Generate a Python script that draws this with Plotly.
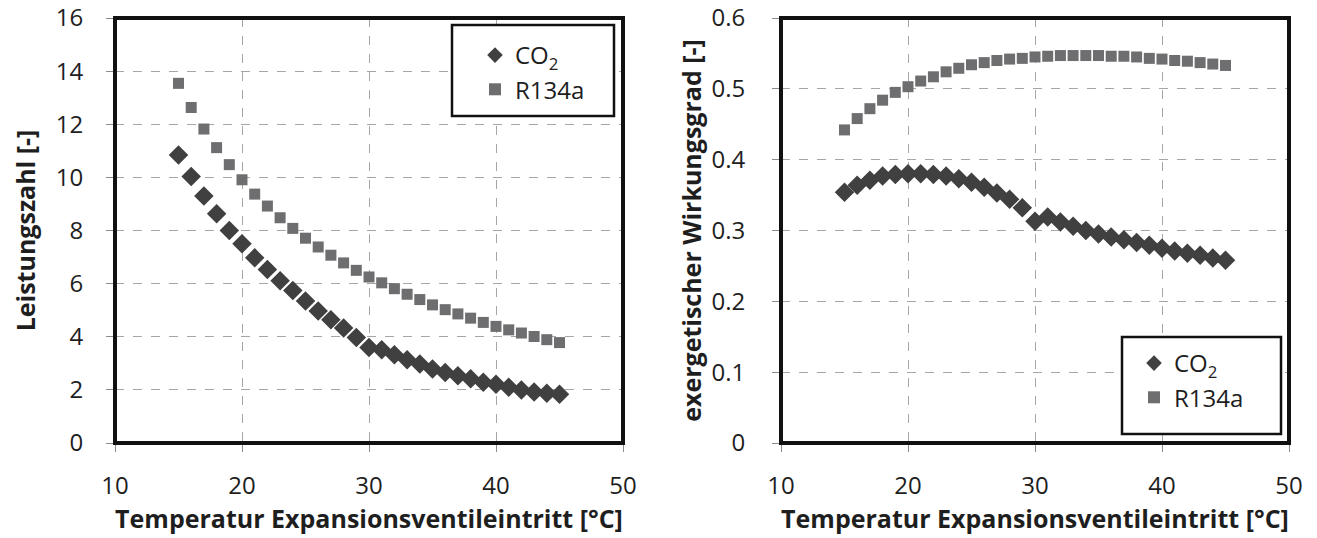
import plotly.graph_objects as go

temps = list(range(15, 46))

cop_co2 = [10.84, 10.03, 9.30, 8.63, 8.00, 7.50, 6.97, 6.53, 6.11, 5.74, 5.35, 4.97, 4.64, 4.33, 3.97, 3.60,
           3.51, 3.32, 3.13, 2.97, 2.79, 2.65, 2.53, 2.42, 2.29, 2.21, 2.10, 2.00, 1.92, 1.87, 1.84]
cop_r134a = [13.54, 12.63, 11.82, 11.12, 10.48, 9.91, 9.37, 8.92, 8.48, 8.08, 7.71, 7.38, 7.07, 6.78, 6.50, 6.25,
             6.03, 5.81, 5.60, 5.40, 5.20, 5.02, 4.86, 4.70, 4.54, 4.39, 4.26, 4.14, 4.01, 3.89, 3.78]
eff_co2 = [0.354, 0.364, 0.371, 0.377, 0.379, 0.380, 0.380, 0.379, 0.377, 0.373, 0.368, 0.361, 0.353, 0.344, 0.332, 0.313,
           0.319, 0.312, 0.306, 0.300, 0.295, 0.291, 0.287, 0.283, 0.279, 0.275, 0.271, 0.268, 0.265, 0.261, 0.258]
eff_r134a = [0.442, 0.458, 0.472, 0.484, 0.495, 0.503, 0.511, 0.517, 0.524, 0.529, 0.534, 0.537, 0.540, 0.542, 0.543, 0.545,
             0.546, 0.547, 0.547, 0.547, 0.547, 0.546, 0.546, 0.545, 0.543, 0.542, 0.540, 0.539, 0.537, 0.535, 0.533]

x_title = "Temperatur Expansionsventileintritt [°C]"
y_title_left = "Leistungszahl [-]"
y_title_right = "exergetischer Wirkungsgrad [-]"
name_co2 = "CO<sub>2</sub>"
name_r134a = "R134a"

W, H = 1317, 538
FONT = "Open Sans"
TXT = "#1e1e1e"
C_CO2 = "#404040"
C_R = "#6e6e70"


def px(xp):
    return xp / W


def py(yp):
    return (H - yp) / H


fig = go.Figure()
fig.add_trace(go.Scatter(x=temps, y=cop_co2, mode="markers", name=name_co2,
                         marker=dict(symbol="diamond", size=15, color=C_CO2), xaxis="x", yaxis="y", legend="legend"))
fig.add_trace(go.Scatter(x=temps, y=cop_r134a, mode="markers", name=name_r134a,
                         marker=dict(symbol="square", size=11, color=C_R), xaxis="x", yaxis="y", legend="legend"))
fig.add_trace(go.Scatter(x=temps, y=eff_co2, mode="markers", name=name_co2,
                         marker=dict(symbol="diamond", size=15, color=C_CO2), xaxis="x2", yaxis="y2", legend="legend2"))
fig.add_trace(go.Scatter(x=temps, y=eff_r134a, mode="markers", name=name_r134a,
                         marker=dict(symbol="square", size=11, color=C_R), xaxis="x2", yaxis="y2", legend="legend2"))

ydom = [py(443), py(18)]
title_font = dict(family=FONT, size=25, color=TXT, weight="bold")
axcommon = dict(showline=False, zeroline=False, showgrid=True, gridcolor="#a6a6a6", griddash="dash", gridwidth=1,
                ticks="outside", ticklen=8, tickcolor="#8c8c8c", automargin=False, ticklabeloverflow="allow",
                tickfont=dict(family=FONT, size=24, color=TXT))

fig.update_layout(
    width=W, height=H,
    margin=dict(l=0, r=0, t=0, b=0),
    paper_bgcolor="white", plot_bgcolor="white",
    font=dict(family=FONT, color=TXT),
    xaxis=dict(domain=[px(115), px(623)], range=[10, 50], dtick=10, anchor="y", ticklabelstandoff=13,
               title=dict(text=x_title, font=title_font, standoff=3), **axcommon),
    yaxis=dict(domain=ydom, range=[0, 16], dtick=2, anchor="x", ticklabelstandoff=18,
               title=dict(text=y_title_left, font=title_font, standoff=12), **axcommon),
    xaxis2=dict(domain=[px(781), px(1289)], range=[10, 50], dtick=10, anchor="y2", ticklabelstandoff=13,
                title=dict(text=x_title, font=title_font, standoff=3), **axcommon),
    yaxis2=dict(domain=ydom, range=[0, 0.6], dtick=0.1, anchor="x2", tickformat="~g", ticklabelstandoff=22,
                title=dict(text=y_title_right, font=title_font, standoff=2), **axcommon),
    legend=dict(x=px(495 - 20), y=py(33), xanchor="left", yanchor="top",
                bgcolor="rgba(0,0,0,0)", borderwidth=0,
                font=dict(family=FONT, size=24, color=TXT), itemwidth=30, itemsizing="constant",
                tracegroupgap=0),
    legend2=dict(x=px(1154 - 20), y=py(341), xanchor="left", yanchor="top",
                 bgcolor="rgba(0,0,0,0)", borderwidth=0,
                 font=dict(family=FONT, size=24, color=TXT), itemwidth=30, itemsizing="constant",
                 tracegroupgap=0),
    showlegend=True,
)

for xr, yr in (("x", "y"), ("x2", "y2")):
    fig.add_shape(type="rect", xref=f"{xr} domain", yref=f"{yr} domain", x0=0, x1=1, y0=0, y1=1,
                  line=dict(color="#111", width=4), fillcolor="rgba(0,0,0,0)", layer="above")

# legend frames
for (x0, x1, y0, y1) in ((452, 614, 25, 116), (1122, 1281, 337, 434)):
    fig.add_shape(type="rect", xref="paper", yref="paper", x0=px(x0), x1=px(x1), y0=py(y1), y1=py(y0),
                  line=dict(color="#111", width=2.5), fillcolor="white", layer="above")

fig.write_html("out.html", config={"displayModeBar": False},
               post_script="document.body.style.margin='0';document.body.style.overflow='hidden';")
